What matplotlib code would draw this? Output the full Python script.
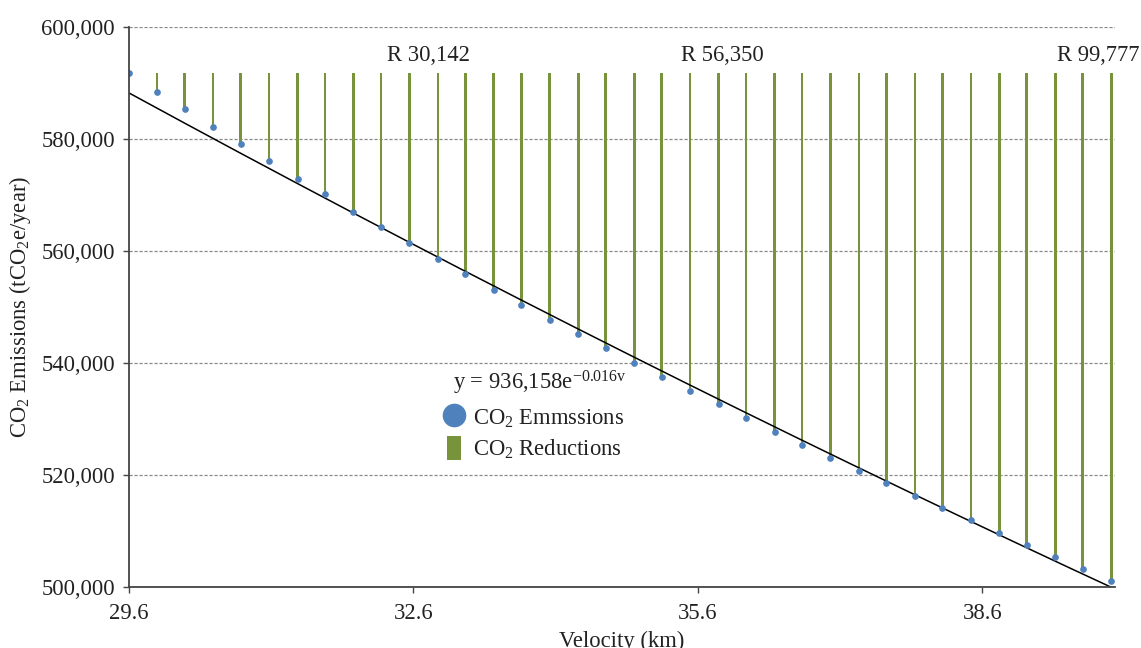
import numpy as np
import matplotlib
matplotlib.use("Agg")
import matplotlib.pyplot as plt
from matplotlib.lines import Line2D
from matplotlib.patches import Patch
from matplotlib.ticker import FuncFormatter, FixedLocator

plt.rcParams['font.family'] = ['Liberation Serif', 'DejaVu Serif']
plt.rcParams['mathtext.fontset'] = 'custom'
plt.rcParams['mathtext.rm'] = 'Liberation Serif'
plt.rcParams['mathtext.it'] = 'Liberation Serif:italic'
plt.rcParams['mathtext.bf'] = 'Liberation Serif:bold'

# ---- data ----
velocity = [29.60, 29.90, 30.19, 30.49, 30.78, 31.08, 31.38, 31.67, 31.97, 32.26,
            32.56, 32.86, 33.15, 33.45, 33.74, 34.04, 34.34, 34.63, 34.93, 35.22,
            35.52, 35.82, 36.11, 36.41, 36.70, 37.00, 37.30, 37.59, 37.89, 38.18,
            38.48, 38.78, 39.07, 39.37, 39.66, 39.96]
emissions = [591680, 588390, 585250, 582040, 579000, 576020, 572860, 570070, 566960, 564230,
             561380, 558520, 555790, 553040, 550300, 547680, 545130, 542630, 539890, 537450,
             534950, 532570, 530070, 527680, 525300, 523040, 520610, 518460, 516200, 514000,
             511860, 509590, 507450, 505300, 503160, 501070]
cost_labels = ["R 30,142", "R 56,350", "R 99,777"]
cost_label_x = [32.76, 35.86, 39.82]
x_ticks = [29.6, 32.6, 35.6, 38.6]
y_ticks = [500000, 520000, 540000, 560000, 580000, 600000]
equation_text = r"y = 936,158e$^{\mathrm{-0.016v}}$"
# trendline parameters as drawn in the reference (y = a * exp(b * v))
trend_a = 936158
trend_b = -0.01570

vel = np.array(velocity)
em = np.array(emissions, dtype=float)
reductions = em[0] - em

blue = '#4F81BD'
green = '#77933C'
txt = '#222222'
FS = 16.3

fig = plt.figure(figsize=(11.41, 6.48), dpi=100)
ax = fig.add_axes([0.1128, 0.0946, 0.9772 - 0.1128, 0.9588 - 0.0946])

# reduction bars
ax.bar(vel, reductions, bottom=em, width=0.028, color=green, zorder=2)

# exponential trendline
xs = np.linspace(29.6, 40.2, 200)
ax.plot(xs, trend_a * np.exp(trend_b * xs), color='black', lw=1.1, zorder=3)

# emission points
ax.plot(vel, em, 'o', color=blue, ms=3.8, zorder=4, linestyle='none')

# cost labels
for lab, xv in zip(cost_labels, cost_label_x):
    ax.text(xv, 594800, lab, ha='center', va='center', fontsize=FS, color=txt,
            clip_on=False, zorder=5)

ax.set_xlim(29.6, 40.0)
ax.set_ylim(500000, 600000)
ax.xaxis.set_major_locator(FixedLocator(x_ticks))
ax.yaxis.set_major_locator(FixedLocator(y_ticks))
ax.xaxis.set_major_formatter(FuncFormatter(lambda v, p: f"{v:.1f}"))
ax.yaxis.set_major_formatter(FuncFormatter(lambda v, p: f"{int(round(v)):,}"))

ax.grid(axis='y', linestyle=(0, (2.5, 1.5)), color='#888888', lw=0.9, zorder=0)
for s in ['top', 'right']:
    ax.spines[s].set_visible(False)
for s in ['left', 'bottom']:
    ax.spines[s].set_color('#444444')
    ax.spines[s].set_linewidth(1.3)
    ax.spines[s].set_zorder(6)
ax.tick_params(axis='both', direction='out', length=4, width=1, color='#444444',
               labelsize=FS, labelcolor=txt)
ax.tick_params(axis='x', pad=8)
ax.tick_params(axis='y', pad=6)

ax.set_ylabel(r"CO$_2$ Emissions (tCO$_2$e/year)", fontsize=FS, color=txt, labelpad=6)
ax.set_xlabel("Velocity (km)", fontsize=FS, color=txt, labelpad=5)

# equation text and legend
ax.text(0.3288, 0.3638, equation_text, transform=ax.transAxes, ha='left', va='center',
        fontsize=FS, color=txt)
handles = [Line2D([0], [0], marker='o', color=blue, linestyle='none', markersize=16),
           Patch(facecolor=green, edgecolor='none')]
leg = ax.legend(handles, [r"CO$_2$ Emmssions", r"CO$_2$ Reductions"], fontsize=FS,
                frameon=False, loc='upper left', bbox_to_anchor=(0.3224, 0.3245),
                handlelength=0.62, handleheight=1.25, handletextpad=0.53,
                labelspacing=0.27, borderaxespad=0, borderpad=0)
for t in leg.get_texts():
    t.set_color(txt)

fig.savefig("out.png", dpi=100)
